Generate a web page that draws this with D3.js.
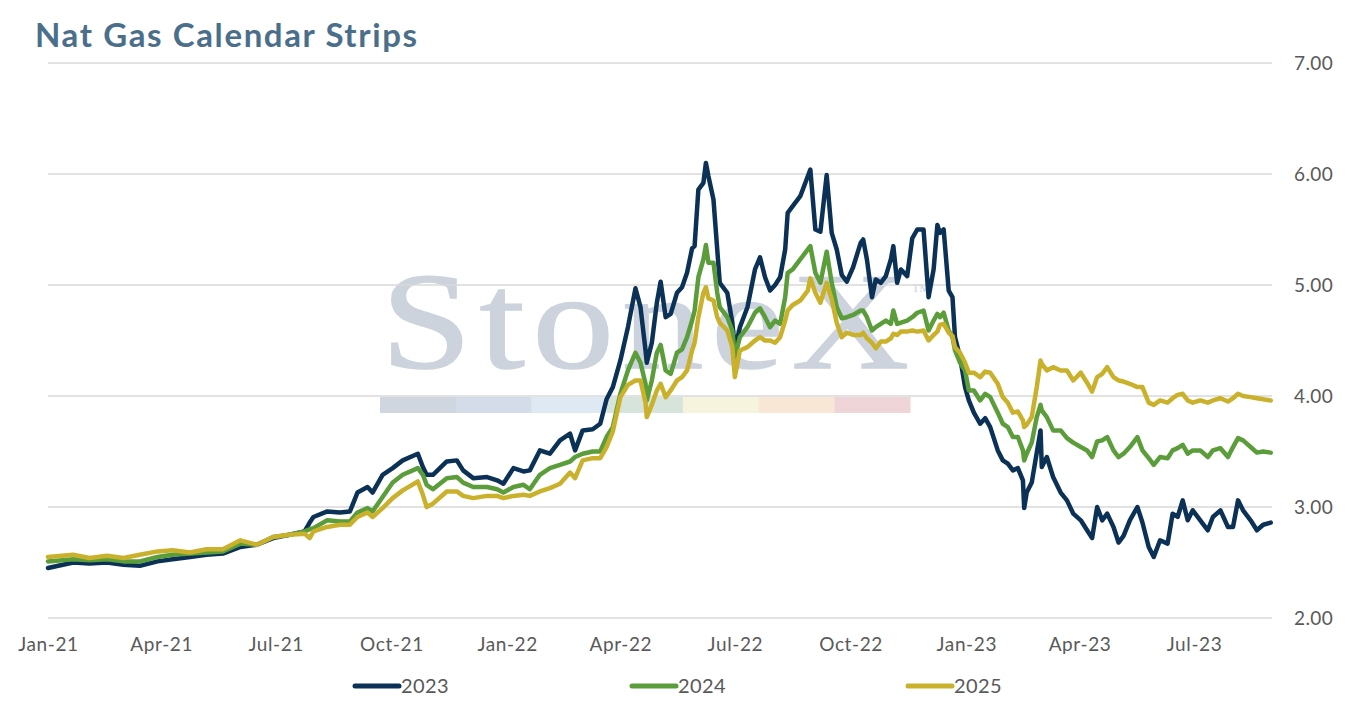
<!DOCTYPE html>
<html><head><meta charset="utf-8">
<script src="https://cdn.jsdelivr.net/npm/d3@7"></script>
<style>
html,body{margin:0;padding:0;background:#fff;}
svg{display:block;font-family:Lato,"Open Sans",sans-serif;}
</style></head><body>
<svg id="c" width="1350" height="707"></svg>
<script>
const dates = [
"2021-01-01","2021-01-21","2021-02-03","2021-02-17","2021-03-02","2021-03-15","2021-03-29","2021-04-10","2021-04-24","2021-05-07",
"2021-05-20","2021-06-03","2021-06-16","2021-06-29","2021-07-12","2021-07-24","2021-07-28","2021-07-31","2021-08-11","2021-08-21",
"2021-08-29","2021-09-04","2021-09-12","2021-09-16","2021-09-24","2021-10-02","2021-10-10","2021-10-22","2021-10-26","2021-10-29",
"2021-11-03","2021-11-14","2021-11-22","2021-11-27","2021-12-05","2021-12-16","2021-12-24","2021-12-29","2022-01-06","2022-01-14",
"2022-01-19","2022-01-27","2022-02-04","2022-02-12","2022-02-20","2022-02-24","2022-03-02","2022-03-10","2022-03-16","2022-03-21",
"2022-03-26","2022-04-01","2022-04-07","2022-04-13","2022-04-17","2022-04-21","2022-04-22","2022-04-26","2022-04-30","2022-05-03",
"2022-05-07","2022-05-11","2022-05-16","2022-05-20","2022-05-24","2022-05-28","2022-05-30","2022-06-02","2022-06-06","2022-06-08",
"2022-06-10","2022-06-14","2022-06-17","2022-06-19","2022-06-25","2022-06-29","2022-07-01","2022-07-05","2022-07-11","2022-07-17",
"2022-07-21","2022-07-25","2022-07-29","2022-08-02","2022-08-06","2022-08-10","2022-08-12","2022-08-16","2022-08-22","2022-08-28",
"2022-08-30","2022-09-03","2022-09-07","2022-09-12","2022-09-16","2022-09-20","2022-09-24","2022-09-28","2022-10-03","2022-10-09",
"2022-10-11","2022-10-14","2022-10-18","2022-10-21","2022-10-25","2022-10-29","2022-11-02","2022-11-04","2022-11-07","2022-11-10",
"2022-11-15","2022-11-19","2022-11-23","2022-11-28","2022-12-02","2022-12-06","2022-12-09","2022-12-11","2022-12-14","2022-12-18",
"2022-12-21","2022-12-23","2022-12-27","2022-12-31","2023-01-03","2023-01-07","2023-01-12","2023-01-16","2023-01-20","2023-01-26",
"2023-01-30","2023-02-03","2023-02-07","2023-02-11","2023-02-15","2023-02-16","2023-02-18","2023-02-22","2023-02-26","2023-03-01",
"2023-03-02","2023-03-06","2023-03-11","2023-03-17","2023-03-22","2023-03-27","2023-04-02","2023-04-07","2023-04-11","2023-04-15",
"2023-04-19","2023-04-23","2023-04-28","2023-05-02","2023-05-06","2023-05-11","2023-05-17","2023-05-21","2023-05-26","2023-05-30",
"2023-06-04","2023-06-10","2023-06-14","2023-06-18","2023-06-22","2023-06-26","2023-06-30","2023-07-06","2023-07-12","2023-07-16",
"2023-07-22","2023-07-28","2023-08-01","2023-08-05","2023-08-09","2023-08-15","2023-08-20","2023-08-25","2023-08-31"
];
const s2023 = [
2.45,2.50,2.49,2.50,2.48,2.47,2.51,2.53,2.55,2.57,
2.58,2.64,2.66,2.72,2.75,2.78,2.86,2.91,2.96,2.95,
2.96,3.13,3.18,3.13,3.29,3.35,3.42,3.48,3.36,3.29,
3.29,3.41,3.42,3.33,3.26,3.27,3.24,3.21,3.35,3.32,
3.33,3.51,3.48,3.60,3.66,3.51,3.69,3.70,3.75,3.97,
4.08,4.32,4.62,4.97,4.80,4.41,4.30,4.48,4.84,5.03,
4.71,4.74,4.93,4.98,5.11,5.33,5.35,5.86,5.92,6.10,
5.98,5.77,5.32,5.02,4.93,4.66,4.41,4.62,4.80,5.14,
5.25,5.07,4.95,5.00,5.07,5.32,5.65,5.71,5.80,5.98,
6.04,5.50,5.48,5.99,5.47,5.32,5.09,5.03,5.16,5.38,
5.41,5.23,4.89,5.05,5.02,5.08,5.23,5.35,5.02,5.14,
5.08,5.42,5.50,5.50,4.89,5.14,5.54,5.47,5.50,4.95,
4.89,4.53,4.35,4.08,3.96,3.85,3.75,3.80,3.72,3.51,
3.42,3.39,3.33,3.35,3.24,2.99,3.13,3.22,3.49,3.69,
3.36,3.45,3.27,3.13,3.06,2.94,2.88,2.79,2.72,3.00,
2.88,2.94,2.82,2.68,2.74,2.88,3.00,2.86,2.64,2.55,
2.70,2.67,2.94,2.91,3.06,2.88,2.97,2.88,2.79,2.91,
2.97,2.82,2.82,3.06,2.97,2.88,2.79,2.84,2.86
];
const s2024 = [
2.51,2.53,2.52,2.53,2.51,2.51,2.55,2.57,2.58,2.59,
2.60,2.67,2.66,2.73,2.75,2.78,2.80,2.81,2.88,2.87,
2.87,2.95,2.99,2.96,3.09,3.22,3.29,3.35,3.29,3.20,
3.16,3.26,3.27,3.22,3.18,3.18,3.16,3.13,3.18,3.20,
3.16,3.29,3.35,3.38,3.41,3.45,3.48,3.50,3.50,3.63,
3.72,4.02,4.23,4.39,4.30,4.11,3.96,4.14,4.39,4.46,
4.23,4.20,4.39,4.42,4.53,4.68,4.77,5.07,5.23,5.36,
5.20,5.20,4.93,4.80,4.71,4.59,4.35,4.53,4.62,4.75,
4.79,4.71,4.62,4.68,4.65,4.89,5.11,5.14,5.23,5.32,
5.35,5.11,5.02,5.30,5.02,4.80,4.70,4.71,4.73,4.77,
4.77,4.71,4.59,4.62,4.65,4.68,4.65,4.77,4.65,4.66,
4.68,4.71,4.75,4.77,4.59,4.68,4.74,4.71,4.75,4.59,
4.53,4.41,4.30,4.23,4.05,4.05,3.96,4.02,3.99,3.85,
3.75,3.72,3.63,3.63,3.51,3.42,3.48,3.58,3.81,3.92,
3.87,3.81,3.69,3.69,3.62,3.58,3.54,3.51,3.45,3.59,
3.60,3.63,3.51,3.45,3.48,3.54,3.63,3.51,3.44,3.38,
3.45,3.44,3.51,3.53,3.56,3.48,3.51,3.51,3.45,3.51,
3.53,3.45,3.54,3.62,3.60,3.54,3.49,3.50,3.49
];
const s2025 = [
2.55,2.57,2.54,2.56,2.54,2.57,2.60,2.61,2.59,2.62,
2.62,2.70,2.66,2.73,2.75,2.76,2.72,2.78,2.82,2.84,
2.84,2.91,2.95,2.91,2.99,3.08,3.15,3.23,3.11,3.00,
3.03,3.14,3.14,3.10,3.08,3.10,3.10,3.08,3.10,3.11,
3.10,3.14,3.17,3.21,3.31,3.26,3.42,3.44,3.44,3.54,
3.68,3.99,4.10,4.14,4.14,3.94,3.81,3.92,4.05,4.11,
3.99,4.05,4.14,4.17,4.23,4.41,4.48,4.71,4.93,4.98,
4.88,4.86,4.71,4.66,4.59,4.44,4.17,4.41,4.44,4.50,
4.53,4.50,4.50,4.48,4.53,4.68,4.77,4.82,4.86,4.95,
5.06,4.93,4.84,5.02,4.87,4.66,4.53,4.57,4.55,4.55,
4.57,4.52,4.48,4.43,4.49,4.49,4.52,4.56,4.55,4.58,
4.58,4.59,4.58,4.59,4.50,4.55,4.58,4.64,4.65,4.57,
4.54,4.44,4.39,4.30,4.21,4.21,4.17,4.22,4.21,4.11,
3.99,3.94,3.85,3.86,3.78,3.72,3.74,3.81,4.08,4.32,
4.29,4.23,4.26,4.23,4.23,4.14,4.21,4.12,4.04,4.17,
4.20,4.26,4.17,4.14,4.13,4.11,4.08,4.08,3.94,3.92,
3.96,3.94,3.98,4.01,4.02,3.96,3.94,3.96,3.94,3.96,
3.98,3.95,3.98,4.02,4.00,3.99,3.98,3.97,3.96
];
const seriesNames = ["2023","2024","2025"];
const seriesColors = ["#0b3156","#5b9d3a","#c9b12c"];
const yTicks = [2,3,4,5,6,7];
const xTicks = ["2021-01-01","2021-04-01","2021-07-01","2021-10-01","2022-01-01","2022-04-01","2022-07-01","2022-10-01","2023-01-01","2023-04-01","2023-07-01"];
const xDomain = ["2021-01-01","2023-09-01"];
const title = "Nat Gas Calendar Strips";
const watermarkText = "StoneX";
const watermarkBarColors = ["#cfd6df","#d3dce8","#dfe9f3","#d6e4dc","#f6f4dc","#f8e7d4","#f0d5d8"];

const parse = d3.timeParse("%Y-%m-%d");
const svg = d3.select("#c");
const L = 48, R = 1272, T = 63, B = 618;
const x = d3.scaleTime().domain(xDomain.map(parse)).range([L, R]);
const y = d3.scaleLinear().domain([2, 7]).range([B, T]);
const labelFont = "Lato,'Open Sans',sans-serif";

// title
svg.append("text").attr("x", 35).attr("y", 47)
  .attr("font-size", 33).attr("font-weight", 700).attr("fill", "#4b6f8a")
  .attr("textLength", 382).attr("lengthAdjust", "spacing")
  .text(title);

// watermark (glyphs widened, then spread to span the colour bar)
const wm = svg.append("g");
const wx = 381, sx = 1.18;
wm.append("text").attr("transform", `translate(${wx},368) scale(${sx},1)`)
  .attr("x", 0).attr("y", 0)
  .attr("font-family", "'Liberation Serif','Times New Roman',serif")
  .attr("font-size", 138).attr("fill", "#ccd3dd").attr("stroke", "#ccd3dd").attr("stroke-width", 1.5)
  .attr("textLength", 528 / sx).attr("lengthAdjust", "spacing")
  .text(watermarkText);
wm.append("text").attr("x", 912).attr("y", 292)
  .attr("font-family", "'Liberation Serif',serif").attr("font-size", 12)
  .attr("fill", "#ccd3dd").text("TM");
const bw = 530 / watermarkBarColors.length;
wm.selectAll("rect.wb").data(watermarkBarColors).join("rect")
  .attr("x", (d, i) => 380 + i * bw).attr("y", 397).attr("width", bw + 0.5).attr("height", 16)
  .attr("fill", d => d);

// gridlines
svg.append("g").selectAll("line").data(yTicks).join("line")
  .attr("x1", L).attr("x2", R).attr("y1", d => y(d)).attr("y2", d => y(d))
  .attr("stroke", "#d9d9d9").attr("stroke-width", 1.5);

// y axis (right)
const ya = svg.append("g").attr("transform", `translate(${R},0)`)
  .call(d3.axisRight(y).tickValues(yTicks).tickFormat(d3.format(".2f")).tickSize(0).tickPadding(22));
ya.select(".domain").remove();
ya.selectAll("text").attr("font-size", 19).attr("fill", "#595959").attr("font-family", labelFont)
  .attr("letter-spacing", 0.4);

// x axis
const xa = svg.append("g").attr("transform", `translate(0,${B})`)
  .call(d3.axisBottom(x).tickValues(xTicks.map(parse)).tickFormat(d3.timeFormat("%b-%y")).tickSize(0).tickPadding(20));
xa.select(".domain").remove();
xa.selectAll("text").attr("font-size", 19).attr("fill", "#595959").attr("font-family", labelFont)
  .attr("letter-spacing", 0.6);

// lines
const allSeries = [s2023, s2024, s2025];
const line = d3.line().x(d => x(d[0])).y(d => y(d[1]));
const pd = dates.map(parse);
allSeries.forEach((s, i) => {
  svg.append("path").datum(s.map((v, j) => [pd[j], v]))
    .attr("d", line).attr("fill", "none").attr("stroke", seriesColors[i])
    .attr("stroke-width", 4.5).attr("stroke-linejoin", "round").attr("stroke-linecap", "round");
});

// legend
const legX = [355, 632, 908];
const lg = svg.append("g");
seriesNames.forEach((n, i) => {
  lg.append("line").attr("x1", legX[i]).attr("x2", legX[i] + 44).attr("y1", 686).attr("y2", 686)
    .attr("stroke", seriesColors[i]).attr("stroke-width", 5).attr("stroke-linecap", "round");
  lg.append("text").attr("x", legX[i] + 46).attr("y", 693).attr("font-size", 20)
    .attr("fill", "#595959").attr("font-family", labelFont).attr("letter-spacing", 0.4).text(n);
});
</script>
</body></html>
